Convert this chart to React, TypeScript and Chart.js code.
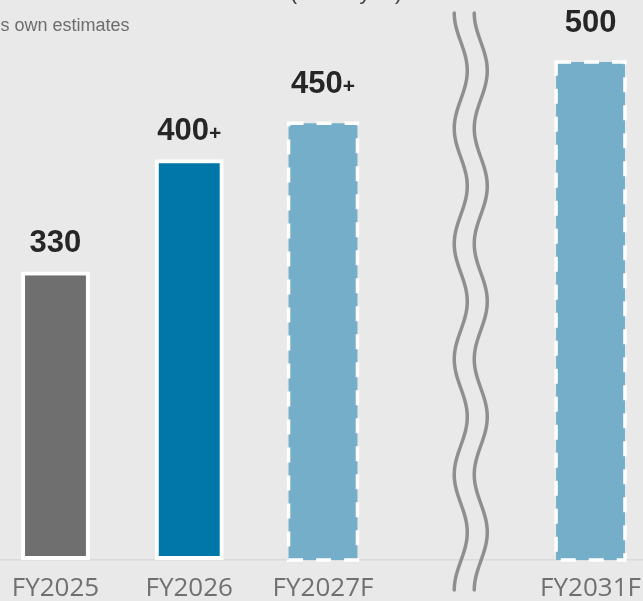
import React, { useEffect, useRef } from 'react';
import { Chart, registerables } from 'chart.js';

Chart.register(...registerables);

// ---- Data ----
const categories = ['FY2025', 'FY2026', 'FY2027F', '', 'FY2031F'];
// Bar heights as drawn in the source (the source chart is not to scale), in drawn units
const barHeights: (number | null)[] = [288, 400, 436, null, 497];
const valueLabels = ['330', '400', '450', '', '500'];
const valueSuffixes = ['', '+', '+', '', ''];
const isForecast = [false, false, true, false, true];
const barColors = ['#6f6f6f', '#0077a8', '#74aec8', '#74aec8', '#74aec8'];
const titleText = '(billion yen)';
const noteText = "Note: FY2027F and FY2031F are the Company's own estimates";
const yMax = 559;

const CANVAS_W = 700;
const CANVAS_H = 618;
const SHIFT = 30; // canvas shifted left (source image is a crop)

const decorPlugin = {
  id: 'decor',
  afterDatasetsDraw(chart: any) {
    const ctx = chart.ctx as CanvasRenderingContext2D;
    const meta = chart.getDatasetMeta(0);
    meta.data.forEach((el: any, i: number) => {
      if (barHeights[i] == null) return;
      const { x, y, base, width } = el.getProps(['x', 'y', 'base', 'width'], true);
      const left = x - width / 2;
      if (isForecast[i]) {
        ctx.save();
        ctx.strokeStyle = '#ffffff';
        ctx.lineWidth = 3.5;
        ctx.setLineDash([15, 13]);
        ctx.strokeRect(left, y, width, base - y);
        ctx.restore();
      }
      // value label
      const gap = isForecast[i] ? 30.5 : 19.5;
      const mainFont = 'bold 31px "Liberation Sans", Arial, sans-serif';
      const supFont = 'bold 21px "Liberation Sans", Arial, sans-serif';
      ctx.save();
      ctx.fillStyle = '#262626';
      ctx.textBaseline = 'alphabetic';
      ctx.textAlign = 'left';
      ctx.font = mainFont;
      const w1 = ctx.measureText(valueLabels[i]).width;
      ctx.font = supFont;
      const w2 = valueSuffixes[i] ? ctx.measureText(valueSuffixes[i]).width : 0;
      const start = x - (w1 + w2) / 2;
      const baseY = y - gap;
      ctx.font = mainFont;
      ctx.fillText(valueLabels[i], start, baseY);
      if (valueSuffixes[i]) {
        ctx.font = supFont;
        ctx.fillText(valueSuffixes[i], start + w1, baseY);
      }
      ctx.restore();
    });
  },
  afterDraw(chart: any) {
    const ctx = chart.ctx as CanvasRenderingContext2D;
    const xs = chart.scales.x;
    const ys = chart.scales.y;
    // title (mostly cropped off at top in source)
    ctx.save();
    ctx.fillStyle = '#404040';
    ctx.font = '22px "Liberation Sans", Arial, sans-serif';
    ctx.textAlign = 'center';
    ctx.textBaseline = 'alphabetic';
    ctx.fillText(titleText, 346 + SHIFT, -1.5);
    // note
    ctx.fillStyle = '#6d6d6d';
    ctx.font = '18px "Liberation Sans", Arial, sans-serif';
    ctx.textAlign = 'right';
    ctx.fillText(noteText, 129.5 + SHIFT, 31);
    ctx.restore();

    // axis-break wavy lines in the empty category
    const gapX = xs.getPixelForValue(3);
    const top = 13;
    const bottom = ys.getPixelForValue(0) + 30;
    const periods = 5;
    const P = (bottom - top) / periods;
    const A = 6.5;
    ctx.save();
    ctx.strokeStyle = '#8f8f8f';
    ctx.lineWidth = 3.5;
    ctx.lineCap = 'round';
    ctx.lineJoin = 'round';
    [4, 24].forEach((off) => {
      const c = gapX + off;
      ctx.beginPath();
      for (let yy = top; yy <= bottom + 0.01; yy += 1) {
        const xx = c - A * Math.cos((2 * Math.PI * (yy - top)) / P);
        if (yy === top) ctx.moveTo(xx, yy);
        else ctx.lineTo(xx, yy);
      }
      ctx.stroke();
    });
    ctx.restore();
  },
};

export default function App() {
  const canvasRef = useRef<HTMLCanvasElement | null>(null);

  useEffect(() => {
    document.body.style.margin = '0';
    const canvas = canvasRef.current;
    if (!canvas) return;
    const chart = new Chart(canvas, {
      type: 'bar',
      data: {
        labels: categories,
        datasets: [
          {
            data: barHeights as any,
            backgroundColor: barColors,
            borderColor: '#ffffff',
            borderWidth: isForecast.map((f) => (f ? 0 : 4)),
            borderSkipped: false,
            barPercentage: 0.515,
            categoryPercentage: 1,
          },
        ],
      },
      options: {
        animation: false,
        responsive: false,
        devicePixelRatio: 1,
        layout: { padding: { left: SHIFT - 11.4, right: CANVAS_W - (SHIFT + 657.4), top: 0, bottom: 0 } },
        plugins: { legend: { display: false }, tooltip: { enabled: false }, title: { display: false } },
        scales: {
          x: {
            grid: { display: false, drawTicks: false },
            border: { display: true, color: '#dadada', width: 1.5 },
            ticks: {
              color: '#707070',
              font: { family: '"Open Sans", sans-serif', size: 26, lineHeight: 1 },
              padding: 16,
              autoSkip: false,
              maxRotation: 0,
            },
          },
          y: { display: false, min: 0, max: yMax },
        },
      },
      plugins: [decorPlugin],
    });
    return () => chart.destroy();
  }, []);

  return (
    <div
      style={{
        position: 'fixed',
        left: 0,
        top: 0,
        width: 643,
        height: 601,
        overflow: 'hidden',
        background: '#e9e9e9',
      }}
    >
      <canvas
        ref={canvasRef}
        width={CANVAS_W}
        height={CANVAS_H}
        style={{ position: 'absolute', left: -SHIFT, top: 0, width: CANVAS_W, height: CANVAS_H }}
      />
    </div>
  );
}
